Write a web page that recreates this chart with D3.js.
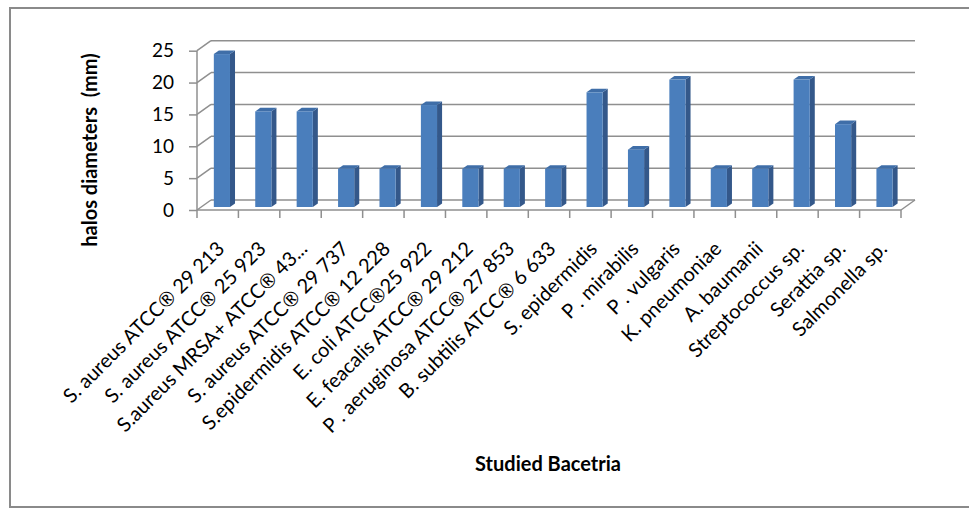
<!DOCTYPE html>
<html>
<head>
<meta charset="utf-8">
<script src="https://cdn.jsdelivr.net/npm/d3@7"></script>
<style>
  html, body { margin: 0; padding: 0; background: #fff; }
  svg { display: block; }
</style>
</head>
<body>
<svg id="chart" width="969" height="509"></svg>
<script>
// Inhibition halo diameters per bacterial strain
const categories = [
  "S. aureus ATCC® 29 213",
  "S. aureus ATCC® 25 923",
  "S.aureus MRSA+ ATCC® 43...",
  "S. aureus ATCC® 29 737",
  "S.epidermidis ATCC® 12 228",
  "E. coli ATCC®25 922",
  "E. feacalis ATCC® 29 212",
  "P . aeruginosa ATCC® 27 853",
  "B. subtilis ATCC® 6 633",
  "S. epidermidis",
  "P . mirabilis",
  "P . vulgaris",
  "K. pneumoniae",
  "A. baumanii",
  "Streptococcus sp.",
  "Serattia sp.",
  "Salmonella sp."
];
const haloValues = [24, 15, 15, 6, 6, 16, 6, 6, 6, 18, 9, 20, 6, 6, 20, 13, 6];
const yTicks = [0, 5, 10, 15, 20, 25];
const yTitle = "halos diameters  (mm)";
const xTitle = "Studied Bacetria";

const svg = d3.select("#chart");
const font = "Lato, 'Open Sans', sans-serif";

// plot frame
svg.append("rect")
  .attr("x", 10).attr("y", 8)
  .attr("width", 980).attr("height", 499)
  .attr("fill", "#fff")
  .attr("stroke", "#8a8a8a").attr("stroke-width", 2);

// front plane scales plus a fixed depth offset for the pseudo-3D walls
const x = d3.scaleBand().domain(categories).range([197, 901]).paddingInner(0).paddingOuter(0);
const y = d3.scaleLinear().domain([0, 25]).range([210, 50.7]);
const DX = 14, DY = -10;
const gridColor = "#8f8f8f";

const walls = svg.append("g").attr("fill", "none").attr("stroke", gridColor).attr("stroke-width", 1.5);

// back wall gridlines
walls.selectAll("line.back").data(yTicks).join("line")
  .attr("class", "back")
  .attr("x1", 197 + DX).attr("x2", 901 + DX)
  .attr("y1", d => y(d) + DY).attr("y2", d => y(d) + DY);

// side wall gridlines
walls.selectAll("line.side").data(yTicks).join("line")
  .attr("class", "side")
  .attr("x1", 197).attr("x2", 197 + DX)
  .attr("y1", d => y(d)).attr("y2", d => y(d) + DY);

// floor front edge and right edge
walls.append("line")
  .attr("x1", 197).attr("x2", 901).attr("y1", y(0)).attr("y2", y(0));
walls.append("line")
  .attr("x1", 901).attr("x2", 901 + DX).attr("y1", y(0)).attr("y2", y(0) + DY);

// value axis
const yAxis = d3.axisLeft(y).tickValues(yTicks).tickSize(8).tickPadding(15).tickFormat(d3.format("d"));
const yg = svg.append("g").attr("transform", "translate(197,0)").call(yAxis);
yg.select(".domain").attr("stroke", gridColor).attr("stroke-width", 1.5).attr("d", `M0,${y(0)}V${y(25)}`);
yg.selectAll(".tick line").attr("stroke", gridColor).attr("stroke-width", 1.5);
yg.selectAll(".tick text").attr("font-family", font).attr("font-size", 19).attr("fill", "#000");

// category tick marks on the floor front edge
const edges = categories.map(c => x(c)).concat([x.range()[1]]);
svg.append("g").selectAll("line").data(edges).join("line")
  .attr("x1", d => d).attr("x2", d => d)
  .attr("y1", y(0)).attr("y2", y(0) + 8)
  .attr("stroke", gridColor).attr("stroke-width", 1.5);

// 3D columns
const f0 = 0.3, f1 = 0.66;
const bw = x.bandwidth() * 0.39;
const bars = svg.append("g");
categories.forEach((c, i) => {
  const v = haloValues[i];
  const xl = x(c) + x.bandwidth() / 2 - bw / 2 + f0 * DX;
  const xr = xl + bw;
  const yb = y(0) + f0 * DY;
  const yt = y(v) + f0 * DY;
  const ddx = (f1 - f0) * DX, ddy = (f1 - f0) * DY;
  const g = bars.append("g");
  // side face
  g.append("path")
    .attr("d", `M${xr},${yb}L${xr + ddx},${yb + ddy}L${xr + ddx},${yt + ddy}L${xr},${yt}Z`)
    .attr("fill", "#34588a");
  // top face
  g.append("path")
    .attr("d", `M${xl},${yt}L${xr},${yt}L${xr + ddx},${yt + ddy}L${xl + ddx},${yt + ddy}Z`)
    .attr("fill", "#3f6ea8");
  // front face
  g.append("rect")
    .attr("x", xl).attr("y", yt)
    .attr("width", bw).attr("height", yb - yt)
    .attr("fill", "#4a7ebc");
});

// rotated category labels
svg.append("g").selectAll("text").data(categories).join("text")
  .attr("transform", d => `translate(${x(d) + x.bandwidth() / 2 + 8},${y(0) + 40}) rotate(-45)`)
  .attr("text-anchor", "end")
  .attr("font-family", font).attr("font-size", 20).attr("fill", "#000")
  .text(d => d);

// axis titles
svg.append("text")
  .attr("transform", "translate(97,150) rotate(-90)")
  .attr("text-anchor", "middle")
  .attr("font-family", font).attr("font-size", 20).attr("font-weight", "bold")
  .attr("xml:space", "preserve").style("white-space", "pre")
  .text(yTitle);
svg.append("text")
  .attr("x", 548).attr("y", 471)
  .attr("text-anchor", "middle")
  .attr("font-family", font).attr("font-size", 20).attr("font-weight", "bold")
  .text(xTitle);
</script>
</body>
</html>
